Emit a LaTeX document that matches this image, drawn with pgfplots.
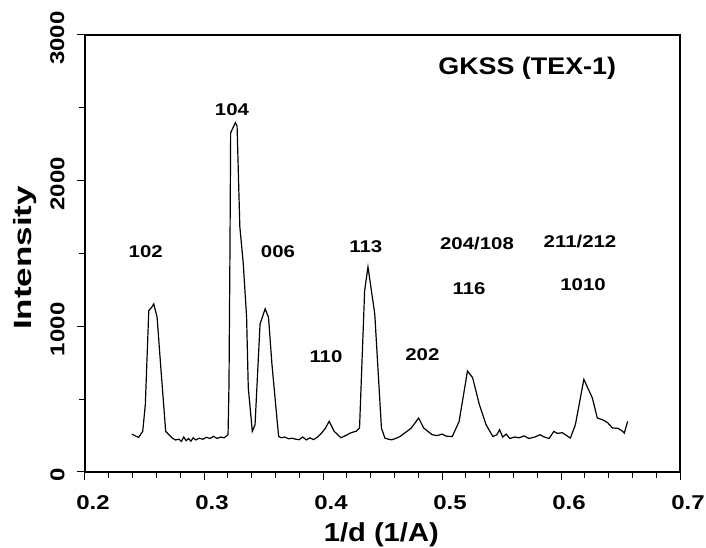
\documentclass[border=0pt]{standalone}
\usepackage{fontspec}
\setmainfont{Liberation Sans}
\newfontfamily\wfont[FakeStretch=1.2]{Liberation Sans}
\newfontfamily\wwfont[FakeStretch=1.4]{Liberation Sans}
\newfontfamily\nfont[FakeStretch=1.12]{Liberation Sans}
\usepackage{pgfplots}
\pgfplotsset{compat=1.18}
\begin{document}
\begin{tikzpicture}
\begin{axis}[
  scale only axis,
  width=595pt, height=437pt,
  xmin=0.2, xmax=0.7, ymin=0, ymax=3000,
  xtick={0.2,0.3,0.4,0.5,0.6,0.7},
  ytick={0,1000,2000,3000},
  minor x tick num=4,
  minor y tick num=1,
  xtick pos=bottom, ytick pos=left,
  tick align=outside,
  major tick length=8pt, minor tick length=6pt,
  every tick/.style={black, line width=1pt},
  axis line style={line width=1.2pt},
  scaled ticks=false,
  /pgf/number format/1000 sep={},
  /pgf/number format/assume math mode=true,
  xticklabel style={font=\wfont\bfseries\fontsize{20}{20}\selectfont, yshift=-12pt, xshift=8pt},
  yticklabel style={font=\wfont\bfseries\fontsize{20}{20}\selectfont, rotate=90, anchor=south, yshift=9pt, xshift=-3pt},
  xlabel={1/d (1/A)},
  ylabel={Intensity},
  xlabel style={font=\nfont\bfseries\fontsize{26}{26}\selectfont, at={(axis description cs:0.498,-0.144)}, anchor=center},
  ylabel style={font=\wwfont\bfseries\fontsize{25}{25}\selectfont, at={(axis description cs:-0.101,0.49)}, anchor=center},
  clip=false,
]
\addplot[black, line width=1.2pt] coordinates {
(0.2394,260) (0.2450,237) (0.2485,279) (0.2507,463) (0.2536,1108) (0.2560,1130)
(0.2578,1154) (0.2606,1062) (0.2635,739) (0.2678,279) (0.2734,233) (0.2760,220)
(0.2790,225) (0.2810,210) (0.2830,240) (0.2850,215) (0.2870,230) (0.2890,212)
(0.2910,235) (0.2930,220) (0.2960,232) (0.2990,225) (0.3020,238) (0.3050,230)
(0.3080,245) (0.3110,230) (0.3140,240) (0.3170,235) (0.3202,256) (0.3210,600)
(0.3218,1500) (0.3224,2329) (0.3264,2398) (0.3278,2375) (0.3301,1685) (0.3330,1430)
(0.3358,1062) (0.3372,580) (0.3406,279) (0.3429,325) (0.3471,1016) (0.3514,1120)
(0.3542,1062) (0.3571,739) (0.3627,244) (0.365,235) (0.368,240) (0.371,228)
(0.374,232) (0.377,225) (0.380,222) (0.383,240) (0.386,220) (0.389,235)
(0.392,222) (0.395,238) (0.398,260) (0.4020,300) (0.4052,348) (0.4094,279)
(0.4151,235) (0.4190,250) (0.4236,270) (0.4280,280) (0.4307,302) (0.4350,1246)
(0.4378,1408) (0.4435,1085) (0.4491,302) (0.4520,233) (0.4550,225) (0.4577,221)
(0.4610,230) (0.4650,245) (0.469,270) (0.4740,300) (0.4804,371) (0.4846,302)
(0.4917,256) (0.4960,250) (0.5000,260) (0.5040,245) (0.5087,244) (0.5144,348)
(0.5214,693) (0.5257,648) (0.5314,463) (0.5370,325) (0.5427,244) (0.5460,255)
(0.5484,290) (0.551,240) (0.554,260) (0.557,230) (0.561,240) (0.565,235)
(0.569,248) (0.573,230) (0.578,240) (0.5824,256) (0.586,240) (0.590,230)
(0.594,279) (0.597,265) (0.601,270) (0.6079,233) (0.6121,325) (0.6192,636)
(0.6263,509) (0.6305,371) (0.6348,359) (0.6390,340) (0.6433,302) (0.6480,300)
(0.6518,279) (0.6532,267) (0.6560,348)
};
\begin{scope}[every node/.style={font=\wfont\bfseries\fontsize{17}{17}\selectfont}]
\node at (axis cs:0.2510,1510) {102};
\node at (axis cs:0.3235,2490) {104};
\node at (axis cs:0.3622,1515) {006};
\node at (axis cs:0.4025,790) {110};
\node at (axis cs:0.4360,1545) {113};
\node at (axis cs:0.4835,805) {202};
\node at (axis cs:0.5294,1570) {204/108};
\node at (axis cs:0.5227,1260) {116};
\node at (axis cs:0.6160,1585) {211/212};
\node at (axis cs:0.6185,1285) {1010};
\end{scope}
\node[font=\nfont\bfseries\fontsize{24}{24}\selectfont] at (axis cs:0.5716,2770) {GKSS (TEX-1)};
\end{axis}
\pgfresetboundingbox
\path (current axis.south west) ++(-85pt,-76pt) rectangle ++(706pt,548pt);
\end{tikzpicture}
\end{document}
